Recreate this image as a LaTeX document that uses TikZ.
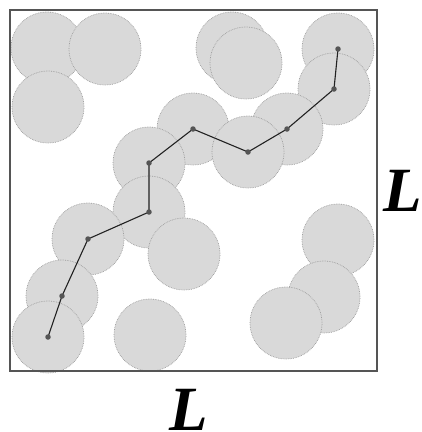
\documentclass[tikz,border=0pt]{standalone}
\usepackage{fontspec}
\setmainfont{Liberation Serif}
\begin{document}
\begin{tikzpicture}[x=1pt,y=-1pt,
  disk/.style={circle,minimum size=72pt,inner sep=0pt,fill=diskfill,draw=diskline,densely dotted,line width=0.7pt},
  site/.style={circle,minimum size=5.5pt,inner sep=0pt,fill=sitecol},
  link/.style={draw=linkcol,line width=1.1pt},
  lab/.style={font=\fontsize{63}{63}\selectfont\bfseries\itshape,inner sep=0pt,text height=42pt,text depth=0pt}]
\definecolor{diskfill}{HTML}{D9D9D9}
\definecolor{diskline}{HTML}{9A9A9A}
\definecolor{sitecol}{HTML}{555555}
\definecolor{linkcol}{HTML}{222222}
\definecolor{boxcol}{HTML}{555555}
\useasboundingbox (0,0) rectangle (422,432);
% disks
\foreach \x/\y [count=\i] in {47/48,105/49,48/107,232/48,246/63,338/49,334/89,193/129,287/129,248/152,149/163,149/212,88/239,184/254,338/240,324/297,286/323,62/296,48/337,150/335}
  \node[disk] (d\i) at (\x,\y) {};
% frame
\node[draw=boxcol,line width=1.2pt,minimum width=367pt,minimum height=361pt,inner sep=0pt] (box) at (193.5,190.5) {};
% path sites
\foreach \x/\y [count=\i] in {48/337,62/296,88/239,149/212,149/163,193/129,248/152,287/129,334/89,338/49}
  \coordinate (c\i) at (\x,\y);
\draw[link] (c1) -- (c2) -- (c3) -- (c4) -- (c5) -- (c6) -- (c7) -- (c8) -- (c9) -- (c10);
\foreach \i in {1,...,10}
  \node[site] (p\i) at (c\i) {};
% labels
\node[lab] (lx) at (189,409) {L};
\node[lab] (ly) at (403,190) {L};
\end{tikzpicture}
\end{document}
